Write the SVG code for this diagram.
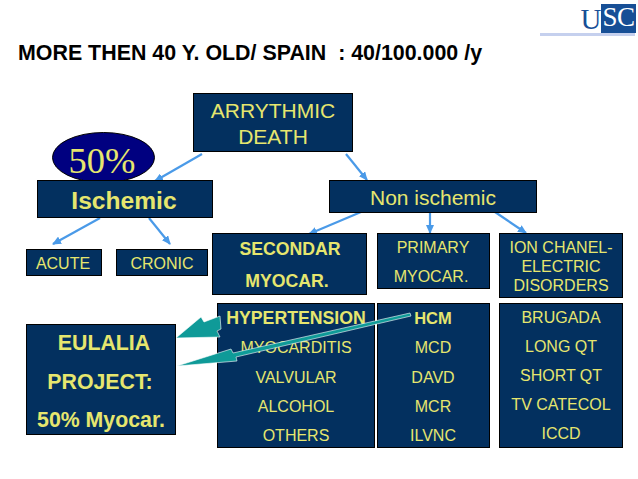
<svg xmlns="http://www.w3.org/2000/svg" width="638" height="479" viewBox="0 0 638 479">
<defs>
<marker id="ah" markerUnits="userSpaceOnUse" markerWidth="9" markerHeight="8" refX="8" refY="4" orient="auto"><path d="M0 0L9 4L0 8Z" fill="#4a9ae8"/></marker>
</defs>
<style>
text{font-family:"Liberation Sans",Arial,sans-serif;fill:#e6e66e;text-anchor:middle}
.b{fill:#03305f;stroke:#000;stroke-width:1}
.c{stroke:#4a9ae8;stroke-width:2.2;fill:none;marker-end:url(#ah)}
.s{font-size:16px}
.h{font-size:17.700px;font-weight:bold}
.e{font-size:21.300px;font-weight:bold}
.f{fill:#0f9a98;stroke:#fff;stroke-width:.6}
</style>
<rect width="638" height="479" fill="#fff"/>
<g id="logo">
<rect x="540" y="33" width="95" height="3" fill="#c5d0ee"/>
<rect x="601" y="4" width="35" height="29" fill="#174f96"/>
<text x="591" y="29" style="fill:#174f96;font-family:'Liberation Serif',serif;font-size:29px">U</text>
<text x="610" y="26" style="fill:#fff;font-family:'Liberation Serif',serif;font-size:27px">S</text>
<text x="626" y="26" style="fill:#fff;font-family:'Liberation Serif',serif;font-size:27px">C</text>
</g>
<text id="title" x="18" y="60" xml:space="preserve" style="fill:#000;font-size:21.400px;font-weight:bold;text-anchor:start;white-space:pre">MORE THEN 40 Y. OLD/ SPAIN  : 40/100.000 /y</text>
<g id="connectors-back">
<path class="c" d="M202 154L155 181"/>
<path class="c" d="M346 154L367 180"/>
<path class="c" d="M100 218L53 244"/>
<path class="c" d="M149 218L170 244"/>
<path class="c" d="M361 212L309 234"/>
<path class="c" d="M430 212L430 233"/>
<path class="c" d="M495 212L526 233"/>
</g>
<g id="death"><rect class="b" x="193.500" y="93.500" width="159" height="58"/><text x="273" y="118" style="font-size:21px">ARRYTHMIC</text><text x="273" y="144" style="font-size:21px">DEATH</text></g>
<g id="fifty"><ellipse cx="103.500" cy="157.500" rx="51" ry="25" fill="#000080" stroke="#000"/><text x="102" y="173" style="font-family:'Liberation Serif',serif;font-size:36.500px">50%</text></g>
<g id="ischemic"><rect class="b" x="37.500" y="180.500" width="175" height="37"/><text x="124" y="209" style="font-size:24.600px;font-weight:bold">Ischemic</text></g>
<g id="nonischemic"><rect class="b" x="329.500" y="180.500" width="207" height="32"/><text x="433" y="205" style="font-size:21px">Non ischemic</text></g>
<g id="acute"><rect class="b" x="26.500" y="249.500" width="75" height="26"/><text class="s" x="63" y="269">ACUTE</text></g>
<g id="cronic"><rect class="b" x="116.500" y="249.500" width="91" height="26"/><text class="s" x="162" y="269">CRONIC</text></g>
<g id="secondary"><rect class="b" x="212.500" y="233.500" width="154" height="61"/><text class="h" x="290" y="255">SECONDAR</text><text class="h" x="287" y="287">MYOCAR.</text></g>
<g id="primary"><rect class="b" x="377.500" y="233.500" width="112" height="55"/><text class="s" x="433" y="253">PRIMARY</text><text class="s" x="431" y="282">MYOCAR.</text></g>
<g id="ion"><rect class="b" x="499.500" y="233.500" width="123" height="64"/><text class="s" x="561" y="253">ION CHANEL-</text><text class="s" x="561" y="272">ELECTRIC</text><text class="s" x="561" y="291">DISORDERS</text></g>
<g id="eulalia"><rect class="b" x="26.500" y="324.500" width="149" height="110"/><text class="e" x="104" y="350">EULALIA</text><text class="e" x="100" y="389">PROJECT:</text><text class="e" x="101" y="427">50% Myocar.</text></g>
<g id="secondary-list"><rect class="b" x="217.500" y="303.500" width="157" height="144"/><text class="h" x="296" y="324">HYPERTENSION</text><text class="s" x="296" y="353">MYOCARDITIS</text><text class="s" x="296" y="383">VALVULAR</text><text class="s" x="296" y="412">ALCOHOL</text><text class="s" x="296" y="441">OTHERS</text></g>
<g id="primary-list"><rect class="b" x="377.500" y="303.500" width="112" height="144"/><text class="h" x="433" y="324" style="font-size:16.500px">HCM</text><text class="s" x="433" y="353">MCD</text><text class="s" x="433" y="383">DAVD</text><text class="s" x="433" y="412">MCR</text><text class="s" x="433" y="441">ILVNC</text></g>
<g id="ion-list"><rect class="b" x="499.500" y="303.500" width="123" height="144"/><text class="s" x="561" y="323">BRUGADA</text><text class="s" x="561" y="352">LONG QT</text><text class="s" x="561" y="381">SHORT QT</text><text class="s" x="561" y="410">TV CATECOL</text><text class="s" x="561" y="439">ICCD</text></g>
<g id="connectors-front">
<path class="f" d="M220 316L204 322L201 317L176 338L220 337L217 331L221 329Z"/>
<path class="f" d="M410 313L411 316L236 357L237 361L177 366L231 349L233 353Z"/>
</g>
</svg>
